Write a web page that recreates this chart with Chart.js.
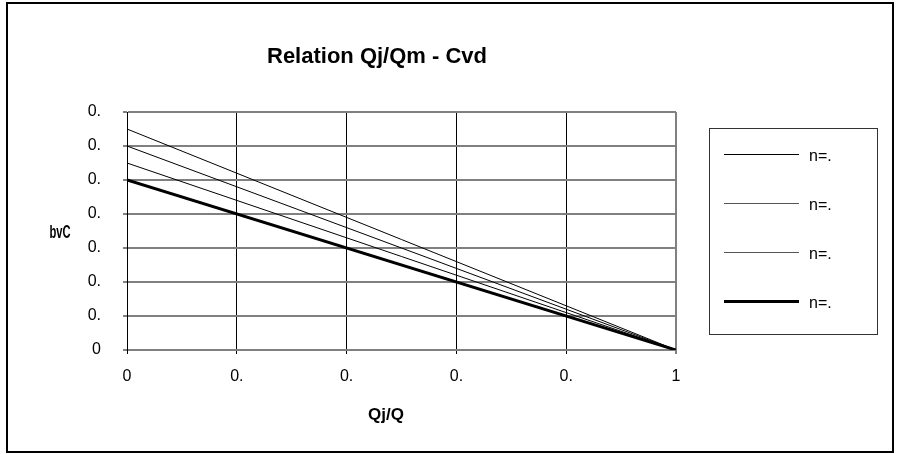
<!DOCTYPE html>
<html lang="en">
<head>
  <meta charset="UTF-8" />
  <title>Relation Qj/Qm - Cvd</title>
  <script src="https://cdn.jsdelivr.net/npm/chart.js"></script>
  <style>
    html, body { margin: 0; padding: 0; background: #fff; }
    #wrap { position: relative; width: 899px; height: 454px; }
    #frame {
      position: absolute; left: 6px; top: 2px; width: 888px; height: 451px;
      border: 2px solid #000; box-sizing: border-box; pointer-events: none;
    }
    canvas { position: absolute; left: 0; top: 0; }
  </style>
</head>
<body>
  <div id="wrap">
    <canvas id="chart" width="899" height="454"></canvas>
    <div id="frame"></div>
  </div>

  <script>
    // data
    const xValues = [0, 1];
    const seriesLabels = ["n=.", "n=.", "n=.", "n=."];
    const series1 = [0.325, 0];
    const series2 = [0.3, 0];
    const series3 = [0.275, 0];
    const series4 = [0.25, 0];
    const yTicks = [0, 0.05, 0.1, 0.15, 0.2, 0.25, 0.3, 0.35];
    const xTicks = [0, 0.2, 0.4, 0.6, 0.8, 1];

    const titleText = "Relation Qj/Qm - Cvd";
    const xTitle = "Qj/Q";
    const yTitle = "bvC";

    const FONT = "'Liberation Sans', Arial, sans-serif";
    const widths = [1, 1, 1, 3];

    const toPoints = arr => arr.map((y, i) => ({ x: xValues[i], y }));

    // title, axis titles and the boxed legend
    const decor = {
      id: "decor",
      afterDraw(chart) {
        const ctx = chart.ctx;
        ctx.save();
        ctx.fillStyle = "#000";
        ctx.textBaseline = "middle";
        ctx.textAlign = "center";
        ctx.font = "bold 22px " + FONT;
        ctx.fillText(titleText, 377, 57);
        ctx.font = "bold 17px " + FONT;
        ctx.fillText(xTitle, 386, 415);

        // y title, squeezed like in the picture
        ctx.save();
        ctx.translate(60, 233);
        ctx.scale(0.62, 1);
        ctx.font = "bold 18px " + FONT;
        ctx.fillText(yTitle, 0, 0);
        ctx.restore();

        // legend
        ctx.strokeStyle = "#333";
        ctx.lineWidth = 1;
        ctx.strokeRect(709.5, 128.5, 168, 206);
        const ys = [154, 203, 252, 301];
        ctx.textAlign = "left";
        ctx.font = "16px " + FONT;
        chart.data.datasets.forEach((ds, i) => {
          ctx.beginPath();
          ctx.strokeStyle = i === 1 || i === 2 ? "#555" : "#000";
          ctx.lineWidth = ds.borderWidth;
          ctx.moveTo(724, ys[i] + 0.5);
          ctx.lineTo(799, ys[i] + 0.5);
          ctx.stroke();
          ctx.fillText(ds.label, 809, ys[i] + 3);
        });
        ctx.restore();
      }
    };

    new Chart(document.getElementById("chart"), {
      type: "line",
      data: {
        datasets: [series1, series2, series3, series4].map((s, i) => ({
          label: seriesLabels[i],
          data: toPoints(s),
          borderColor: "#000",
          borderWidth: widths[i],
          pointRadius: 0,
          tension: 0,
          fill: false
        }))
      },
      options: {
        responsive: false,
        animation: false,
        layout: { padding: { left: 0, top: 112, right: 223, bottom: 0 } },
        plugins: {
          legend: { display: false },
          title: { display: false },
          tooltip: { enabled: false }
        },
        scales: {
          x: {
            type: "linear",
            min: 0,
            max: 1,
            afterFit(scale) { scale.height = 104; },
            afterBuildTicks(scale) { scale.ticks = xTicks.map(v => ({ value: v })); },
            ticks: {
              padding: 13,
              color: "#000",
              font: { family: FONT, size: 16 },
              maxRotation: 0,
              callback: v => (v === 0 ? "0" : v === 1 ? "1" : "0.")
            },
            grid: {
              color: c => (c.tick && c.tick.value === 1 ? "#808080" : "#000"),
              lineWidth: c => (c.tick && c.tick.value === 1 ? 2 : 1),
              tickLength: 4
            },
            border: { color: "#808080", width: 2 }
          },
          y: {
            min: 0,
            max: 0.35,
            afterFit(scale) { scale.width = 127; },
            afterBuildTicks(scale) { scale.ticks = yTicks.map(v => ({ value: v })); },
            ticks: {
              padding: 22,
              color: "#000",
              font: { family: FONT, size: 16 },
              callback: v => (v === 0 ? "0" : "0.")
            },
            grid: { color: "#808080", lineWidth: 2, tickLength: 4 },
            border: { color: "#000", width: 1 }
          }
        }
      },
      plugins: [decor]
    });
  </script>
</body>
</html>
